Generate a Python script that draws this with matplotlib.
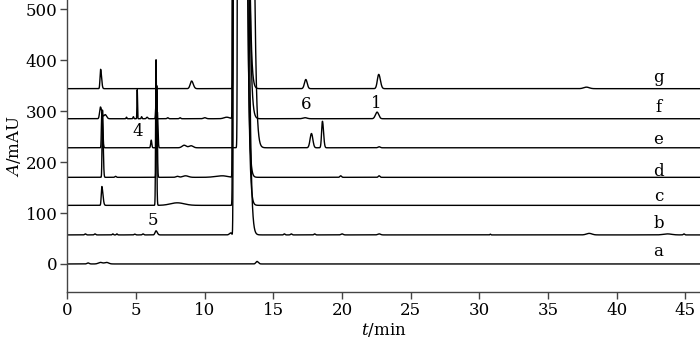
import numpy as np
import matplotlib
matplotlib.use("Agg")
import matplotlib.pyplot as plt

plt.rcParams['font.family'] = ['DejaVu Serif']
plt.rcParams['mathtext.fontset'] = 'dejavuserif'

# Trace names and baselines (mAU)
trace_names = ['a', 'b', 'c', 'd', 'e', 'f', 'g']
baselines = [0, 57, 115, 170, 228, 285, 344]

# Peaks per trace: (retention time min, height mAU, sigma_left, sigma_right)
peaks_a = [(1.5, 2, 0.08, 0.08), (2.4, 3, 0.15, 0.15), (2.85, 3, 0.15, 0.15),
           (13.8, 5, 0.08, 0.1)]
peaks_b = [(1.3, 2, 0.05, 0.05), (2.0, 2, 0.05, 0.05), (3.3, 2, 0.04, 0.04),
           (3.6, 2, 0.04, 0.04), (4.9, 1.5, 0.05, 0.05), (5.5, 2, 0.05, 0.05),
           (6.45, 8, 0.07, 0.09), (11.9, 4, 0.1, 0.05),
           (12.2, 30000, 0.045, 0.36), (15.8, 2, 0.05, 0.05), (16.3, 2, 0.05, 0.05),
           (18.0, 2, 0.05, 0.05), (20.0, 2, 0.08, 0.08), (22.7, 2, 0.1, 0.1),
           (30.8, 1.5, 0.03, 0.03), (38.0, 3, 0.2, 0.2), (43.7, 2, 0.3, 0.3),
           (44.9, 2, 0.05, 0.05)]
peaks_c = [(2.5, 37, 0.04, 0.08), (6.45, 286, 0.03, 0.04), (8.0, 5, 0.5, 0.5),
           (12.15, 30000, 0.045, 0.34)]
peaks_d = [(2.55, 132, 0.03, 0.05), (3.5, 2, 0.05, 0.05), (6.5, 180, 0.03, 0.04),
           (8.0, 2, 0.1, 0.1), (8.6, 3, 0.2, 0.2), (11.3, 3, 0.5, 0.3),
           (12.15, 30000, 0.045, 0.33), (19.9, 3, 0.06, 0.06), (22.7, 3, 0.06, 0.06)]
peaks_e = [(2.5, 70, 0.03, 0.06), (6.1, 15, 0.04, 0.04), (6.55, 70, 0.03, 0.04),
           (8.5, 5, 0.15, 0.15), (9.0, 4, 0.15, 0.15), (12.5, 30000, 0.045, 0.38),
           (17.77, 28, 0.1, 0.1), (18.57, 52, 0.06, 0.08), (22.7, 2, 0.08, 0.08)]
peaks_f = [(2.4, 23, 0.06, 0.1), (2.75, 8, 0.1, 0.1), (4.3, 3, 0.03, 0.03),
           (4.8, 4, 0.03, 0.03), (5.08, 57, 0.02, 0.02), (5.4, 4, 0.03, 0.03),
           (5.8, 3, 0.05, 0.05), (6.45, 30, 0.03, 0.03), (7.3, 2, 0.05, 0.05),
           (8.2, 2, 0.05, 0.05), (10.0, 2, 0.1, 0.1), (11.6, 3, 0.2, 0.2),
           (12.15, 30000, 0.045, 0.37), (17.3, 2, 0.15, 0.15), (22.55, 13, 0.12, 0.12)]
peaks_g = [(2.41, 38, 0.04, 0.07), (9.04, 15, 0.1, 0.12), (12.2, 30000, 0.045, 0.35),
           (17.36, 18, 0.1, 0.1), (22.67, 28, 0.1, 0.12), (37.8, 3, 0.2, 0.2)]
all_peaks = [peaks_a, peaks_b, peaks_c, peaks_d, peaks_e, peaks_f, peaks_g]

# Trace label positions
trace_label_x = 43.05
trace_label_y = [24, 80, 133, 182, 245, 308, 365]

# Peak number annotations
peak_labels = ['4', '5', '6', '1']
peak_label_x = [5.13, 6.2, 17.4, 22.5]
peak_label_y = [259, 86, 312, 314]

x_ticks = [0, 5, 10, 15, 20, 25, 30, 35, 40, 45]
y_ticks = [0, 100, 200, 300, 400, 500]

fig = plt.figure(figsize=(7.0, 3.52), dpi=100)
ax = fig.add_axes([0.0964, 0.1705, 0.9036, 0.8295])

t = np.arange(0, 46.2, 0.004)
for base, peaks in zip(baselines, all_peaks):
    y = np.full_like(t, float(base))
    for rt, h, sl, sr in peaks:
        s = np.where(t < rt, sl, sr)
        y += h * np.exp(-0.5 * ((t - rt) / s) ** 2)
    ax.plot(t, y, color='black', lw=1.0)

for name, ly in zip(trace_names, trace_label_y):
    ax.text(trace_label_x, ly, name, fontsize=12, ha='center', va='center')
for lab, lx, ly in zip(peak_labels, peak_label_x, peak_label_y):
    ax.text(lx, ly, lab, fontsize=12, ha='center', va='center')

ax.set_xlim(0, 46.07)
ax.set_ylim(-55, 518)
ax.set_xticks(x_ticks)
ax.set_yticks(y_ticks)
for s in ['top', 'right']:
    ax.spines[s].set_visible(False)
for s in ['left', 'bottom']:
    ax.spines[s].set_color('#444444')
    ax.spines[s].set_linewidth(1.0)
ax.tick_params(direction='out', length=5, width=1.0, color='#444444',
               labelsize=12, pad=2)
ax.set_xlabel('$t$/min', fontsize=12, labelpad=2)
ax.set_ylabel('$A$/mAU', fontsize=12, labelpad=2)

fig.savefig('out.png', dpi=100)
